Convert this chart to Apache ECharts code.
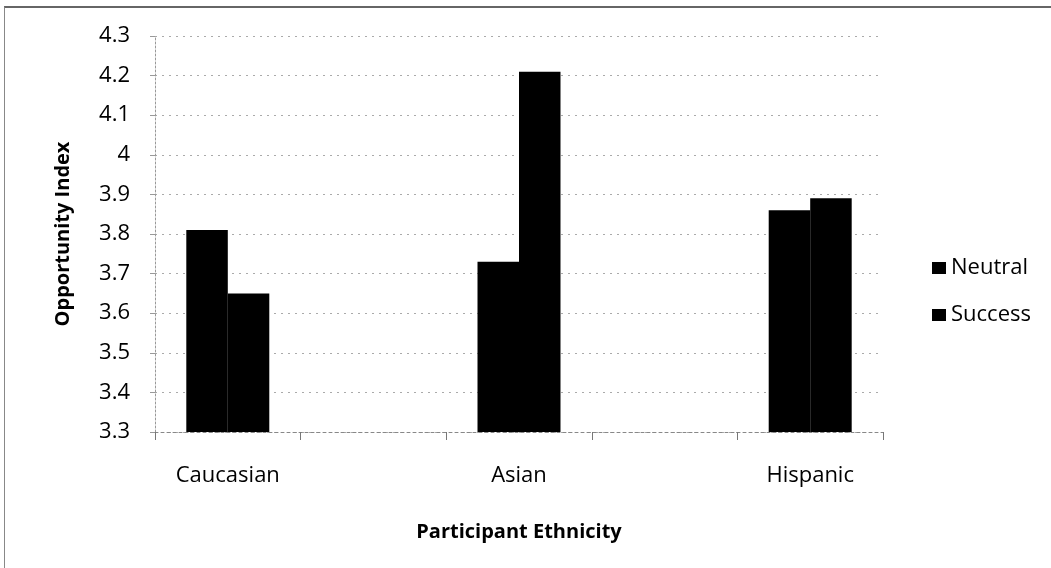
<!DOCTYPE html>
<html>
<head>
<meta charset="utf-8">
<script src="https://cdn.jsdelivr.net/npm/echarts@6/dist/echarts.min.js"></script>
<style>
  html, body { margin: 0; padding: 0; background: #fff; overflow: hidden; }
  #frame { position: absolute; left: 4px; top: 6px; width: 1100px; height: 600px;
           border-top: 2px solid #666; border-left: 1px solid #888; }
  #chart { position: absolute; left: 0; top: 0; width: 1051px; height: 568px; }
</style>
</head>
<body>
<div id="frame"></div>
<div id="chart"></div>
<script>
// blank slots between groups, the original chart spaced them this way
var categories = ['Caucasian', '', 'Asian', '', 'Hispanic'];
var neutral = [3.81, null, 3.73, null, 3.86];
var success = [3.65, null, 4.21, null, 3.89];
var seriesNames = ['Neutral', 'Success'];

var font = '"Open Sans", "DejaVu Sans", sans-serif';
var myChart = echarts.init(document.getElementById('chart'));
var option = {
    backgroundColor: 'transparent',
    animation: false,
    textStyle: { fontFamily: font, color: '#000' },
    grid: { left: 155, right: 168, top: 36, bottom: 136 },
    legend: {
        data: seriesNames,
        orient: 'vertical',
        left: 927,
        top: 252,
        icon: 'rect',
        itemWidth: 14,
        itemHeight: 12,
        itemGap: 25,
        textStyle: { fontFamily: font, fontSize: 22, color: '#000', lineHeight: 22 }
    },
    xAxis: {
        type: 'category',
        data: categories,
        name: 'Participant Ethnicity',
        nameLocation: 'middle',
        nameGap: 90,
        nameTextStyle: { fontFamily: font, fontSize: 20, fontWeight: 'bold', color: '#000' },
        axisLine: { show: true, lineStyle: { color: '#888', type: [3, 3], width: 1 } },
        axisTick: { show: true, length: 8, lineStyle: { color: '#777' } },
        axisLabel: { interval: 0, margin: 33, fontSize: 22, color: '#000', fontFamily: font },
        splitLine: { show: false }
    },
    yAxis: {
        type: 'value',
        min: 3.3,
        max: 4.3,
        interval: 0.1,
        name: 'Opportunity Index',
        nameLocation: 'middle',
        nameGap: 82,
        nameTextStyle: { fontFamily: font, fontSize: 20, fontWeight: 'bold', color: '#000' },
        axisLine: { show: true, lineStyle: { color: '#999', type: [2, 2], width: 1 } },
        axisTick: { show: true, inside: false, length: 5, lineStyle: { color: '#999' } },
        axisLabel: {
            margin: 25, fontSize: 22, color: '#000', fontFamily: font,
            formatter: function (v) { return String(Math.round(v * 10) / 10); }
        },
        splitLine: { show: true, lineStyle: { color: '#aaa', type: [2, 5], width: 1 } }
    },
    series: [
        {
            name: seriesNames[0], type: 'bar', data: neutral,
            barGap: 0, barCategoryGap: '43%',
            itemStyle: { color: '#000' }
        },
        {
            name: seriesNames[1], type: 'bar', data: success,
            barGap: 0, barCategoryGap: '43%',
            itemStyle: { color: '#000' }
        }
    ]
};
myChart.setOption(option);
</script>
</body>
</html>
